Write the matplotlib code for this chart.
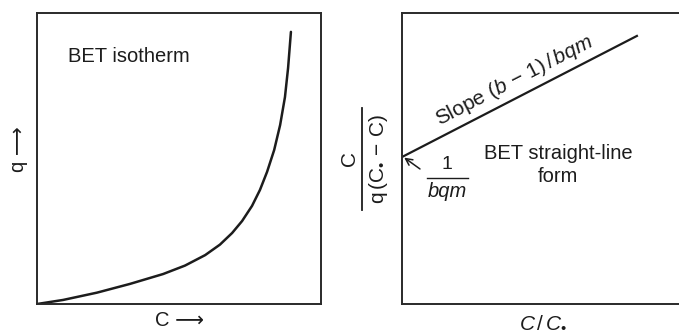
import matplotlib
matplotlib.use("Agg")
from matplotlib import pyplot as plt

plt.rcParams['font.family'] = ['Liberation Sans', 'DejaVu Sans']
plt.rcParams['mathtext.fontset'] = 'custom'
plt.rcParams['mathtext.rm'] = 'Liberation Sans'
plt.rcParams['mathtext.it'] = 'Liberation Sans:italic'
plt.rcParams['mathtext.bf'] = 'Liberation Sans:bold'

# BET isotherm (left panel)
conc = [0.0, 0.092, 0.211, 0.327, 0.444, 0.521, 0.592, 0.644, 0.687, 0.722,
        0.757, 0.785, 0.810, 0.835, 0.856, 0.873, 0.884, 0.894]
q = [0.0, 0.014, 0.039, 0.069, 0.103, 0.132, 0.168, 0.204, 0.244, 0.285,
     0.337, 0.392, 0.454, 0.529, 0.615, 0.711, 0.811, 0.935]

# straight-line form (right panel)
rel_conc = [0.0, 0.848]
lin_y = [0.505, 0.921]

ink = '#1c1c1c'

fig = plt.figure(figsize=(6.79, 3.32), dpi=100)
ax1 = fig.add_axes([0.0545, 0.0843, 0.4183, 0.8767])
ax2 = fig.add_axes([0.592, 0.0843, 0.408, 0.8767])

for ax in (ax1, ax2):
    ax.set_xlim(0, 1)
    ax.set_ylim(0, 1)
    ax.set_xticks([])
    ax.set_yticks([])
    for s in ax.spines.values():
        s.set_linewidth(1.4)
        s.set_color('#2a2a2a')
ax2.spines['right'].set_visible(False)

# left: isotherm
ax1.plot(conc, q, color=ink, lw=1.8, solid_capstyle='round',
         solid_joinstyle='round')
ax1.text(0.109, 0.849, 'BET isotherm', fontsize=14.5, color=ink,
         ha='left', va='center', transform=ax1.transAxes)
fig.text(0.027, 0.55, 'q \u27f6', rotation=90, fontsize=14.5, color=ink,
         ha='center', va='center')
fig.text(0.265, 0.035, 'C \u27f6', fontsize=14.5, color=ink,
         ha='center', va='center')

# right: straight-line form
ax2.plot(rel_conc, lin_y, color=ink, lw=1.6)
ax2.text(0.404, 0.766, r'Slope $(b\,-\,1)\,/\,bqm$', fontsize=15, color=ink,
         rotation=27.3, ha='center', va='center', rotation_mode='anchor',
         transform=ax2.transAxes)
ax2.text(0.563, 0.478, 'BET straight-line\nform', fontsize=14.5, color=ink,
         ha='center', va='center', multialignment='center', linespacing=1.25,
         transform=ax2.transAxes)
ax2.text(0.164, 0.478, '1', fontsize=14, color=ink, ha='center', va='center',
         transform=ax2.transAxes)
ax2.plot([0.09, 0.238], [0.433, 0.433], color=ink, lw=1.0,
         transform=ax2.transAxes)
ax2.text(0.164, 0.385, 'bqm', fontsize=14.5, style='italic', color=ink,
         ha='center', va='center', transform=ax2.transAxes)
ax2.annotate('', xy=(0.008, 0.503), xytext=(0.065, 0.464),
             xycoords='axes fraction',
             arrowprops=dict(arrowstyle='->', color=ink, lw=1.1,
                             shrinkA=0, shrinkB=0, mutation_scale=12))

# y label of the right panel as a stacked fraction
fig.text(0.514, 0.524, 'C', rotation=90, fontsize=15, color=ink,
         ha='center', va='center')
fig.add_artist(plt.Line2D([0.533, 0.533], [0.367, 0.675], color=ink, lw=1.3,
                          transform=fig.transFigure))
fig.text(0.557, 0.521, '$\\mathrm{q\\,(C_{\u2022}\\,-\\,C)}$', rotation=90,
         fontsize=15, color=ink, ha='center', va='center')
fig.text(0.80, 0.03, '$C\\,/\\,C_{\u2022}$', fontsize=15, color=ink,
         ha='center', va='center')

fig.savefig('out.png', dpi=100, facecolor='white')
